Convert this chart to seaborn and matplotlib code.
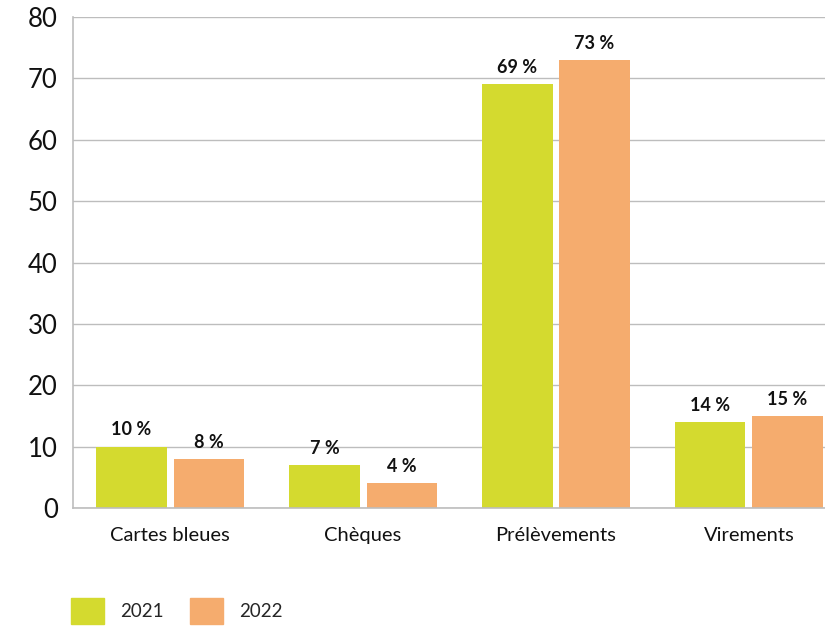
import pandas as pd
import matplotlib.pyplot as plt
import seaborn as sns
from matplotlib.patches import Patch

# data
categories = ['Cartes bleues', 'Chèques', 'Prélèvements', 'Virements']
years = ['2021', '2022']
values_2021 = [10, 7, 69, 14]
values_2022 = [8, 4, 73, 15]

df = pd.DataFrame({
    'Catégorie': categories * 2,
    'Année': [years[0]] * 4 + [years[1]] * 4,
    'Valeur': values_2021 + values_2022,
})

palette = {'2021': '#D4DA2F', '2022': '#F5AC6E'}

sns.set_style('white')
plt.rcParams['font.family'] = ['Lato', 'DejaVu Sans']

fig = plt.figure(figsize=(8.25, 6.28), dpi=100)
ax = fig.add_axes([0.0885, 0.191, 0.9115, 0.782])

sns.barplot(data=df, x='Catégorie', y='Valeur', hue='Année', palette=palette,
            width=0.8, gap=0.09, saturation=1, linewidth=0, edgecolor='none',
            ax=ax, legend=False)

for cont in ax.containers:
    ax.bar_label(cont, labels=[f'{int(v)} %' for v in cont.datavalues],
                 padding=6, fontsize=13, fontweight='bold', color='#111111')

ax.set_ylim(0, 80)
ax.set_xlim(-0.503, 3.394)
ax.set_yticks(range(0, 81, 10))
ax.yaxis.grid(True, color='#bdbdbd', linewidth=1)
ax.set_axisbelow(True)
ax.tick_params(axis='y', labelsize=18.5, length=0, pad=11, labelcolor='#111111')
ax.tick_params(axis='x', labelsize=14.5, length=0, pad=14, labelcolor='#111111')
ax.set_xlabel('')
ax.set_ylabel('')
for s in ['top', 'right']:
    ax.spines[s].set_visible(False)
for s in ['left', 'bottom']:
    ax.spines[s].set_color('#bdbdbd')
    ax.spines[s].set_linewidth(1.2)

handles = [Patch(color=palette[y], label=y) for y in years]
fig.legend(handles=handles, loc='lower left', bbox_to_anchor=(0.066, -0.02),
           ncol=2, frameon=False, fontsize=13.5, handlelength=1.75,
           handleheight=1.75, handletextpad=0.85, columnspacing=1.4)

fig.savefig('out.png', dpi=100)
